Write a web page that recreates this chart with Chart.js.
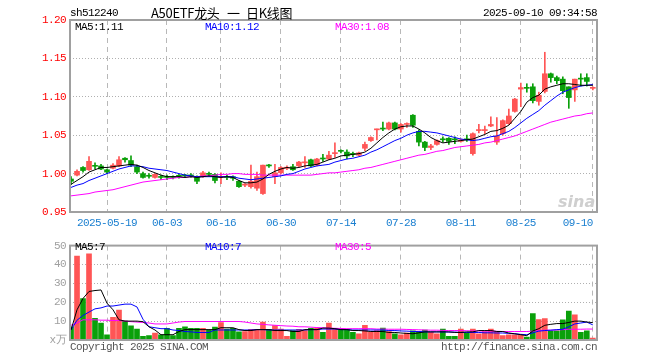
<!DOCTYPE html>
<html><head><meta charset="utf-8">
<script src="https://cdn.jsdelivr.net/npm/chart.js@4"></script>
<style>
body{margin:0;width:660px;height:360px;background:#fff;position:relative;overflow:hidden;font-family:"Liberation Mono",monospace}
canvas{position:absolute;left:0}
.t{position:absolute;font-size:11px;white-space:nowrap;line-height:12px;letter-spacing:-0.6px;font-family:"Liberation Mono",monospace}
.h{position:absolute;white-space:nowrap;font-family:'Noto Sans CJK SC';font-size:13px;line-height:16px;top:5px;color:#000}
</style></head><body>
<canvas id="k" width="660" height="235" style="top:0"></canvas>
<canvas id="v" width="660" height="125" style="top:235px"></canvas>
<div class="t" style="left:70px;top:7px;color:#000">sh512240</div>
<div class="h" style="left:151px;letter-spacing:-0.3px">A50ETF龙头</div>
<div class="h" style="left:227px">一</div>
<div class="h" style="left:246px;letter-spacing:-0.3px">日K线图</div>
<div class="t" style="right:63px;top:7px;color:#000">2025-09-10 09:34:58</div>
<div class="t" style="left:75px;top:21px;color:#000">MA5:1.11</div>
<div class="t" style="left:205px;top:21px;color:#0000ff">MA10:1.12</div>
<div class="t" style="left:335px;top:21px;color:#ff00ff">MA30:1.08</div>
<div class="t" style="left:75px;top:241px;color:#000">MA5:7</div>
<div class="t" style="left:205px;top:241px;color:#0000ff">MA10:7</div>
<div class="t" style="left:335px;top:241px;color:#ff00ff">MA30:5</div>
<div class="t" style="left:70px;top:341px;color:#555">Copyright 2025 SINA.COM</div>
<div class="t" style="right:63px;top:341px;color:#555">http://finance.sina.com.cn</div>
<div class="t" style="left:558px;top:193px;color:#cfcfcf;font-family:'DejaVu Sans';font-weight:bold;font-style:italic;font-size:16px;line-height:18px;letter-spacing:0">sina</div>
<script>
const dates = ['05-09','05-12','05-13','05-14','05-15','05-16','05-19','05-20','05-21','05-22','05-23','05-26','05-27','05-28','05-29','05-30',
'06-03','06-04','06-05','06-06','06-09','06-10','06-11','06-12','06-13','06-16','06-17','06-18','06-19','06-20','06-23','06-24','06-25','06-26','06-27','06-30',
'07-01','07-02','07-03','07-04','07-07','07-08','07-09','07-10','07-11','07-14','07-15','07-16','07-17','07-18','07-21','07-22','07-23','07-24','07-25','07-28','07-29','07-30','07-31',
'08-01','08-04','08-05','08-06','08-07','08-08','08-11','08-12','08-13','08-14','08-15','08-18','08-19','08-20','08-21','08-22','08-25','08-26','08-27','08-28','08-29',
'09-01','09-02','09-03','09-04','09-05','09-08','09-09','09-10'];
const tickLabels = ['2025-05-19','06-03','06-16','06-30','07-14','07-28','08-11','08-25','09-10'];
const priceTicks = [0.95,1.00,1.05,1.10,1.15,1.20];
const volTicks = [0,10,20,30,40,50];

const open = [.993,.998,1.008,1.005,1.010,1.010,1.005,1.007,1.010,1.020,
1.017,1.009,1.000,.997,.995,.996,.996,.996,.997,.998,
.998,.996,.996,1.000,.999,.995,.996,.996,.990,.985,
.983,.981,.974,1.0105,.996,1.001,1.007,1.009,1.010,1.014,
1.018,1.011,1.020,1.019,1.026,1.0295,1.028,1.026,1.024,1.033,
1.043,1.057,1.059,1.058,1.066,1.058,1.064,1.076,1.055,1.041,
1.034,1.038,1.045,1.046,1.0445,1.042,1.045,1.026,1.056,1.056,
1.062,1.041,1.052,1.065,1.081,1.110,1.112,1.113,1.094,1.107,
1.130,1.125,1.123,1.113,1.109,1.1235,1.125,1.111];
const high = [.996,1.005,1.009,1.022,1.014,1.012,1.006,1.013,1.022,1.021,
1.023,1.011,1.002,1.000,1.000,.998,.998,.997,.999,.999,
1.000,.997,1.003,1.002,1.000,1.001,.998,.997,.991,.987,
1.011,1.002,1.011,1.012,1.012,1.009,1.010,1.012,1.016,1.022,
1.019,1.020,1.025,1.029,1.040,1.031,1.031,1.028,1.028,1.041,
1.048,1.058,1.067,1.067,1.067,1.065,1.066,1.077,1.057,1.042,
1.038,1.044,1.048,1.047,1.048,1.045,1.050,1.053,1.064,1.062,
1.074,1.073,1.070,1.084,1.098,1.118,1.117,1.117,1.106,1.158,
1.131,1.127,1.126,1.113,1.123,1.130,1.130,1.113];
const low = [.986,.997,1.002,1.004,1.006,1.005,1.000,1.006,1.009,1.015,
1.009,1.000,.994,.994,.994,.992,.992,.993,.994,.995,
.995,.987,.995,.996,.988,.987,.992,.991,.982,.983,
.981,.978,.973,1.008,.987,1.000,1.005,1.004,1.009,1.008,
1.009,1.010,1.016,1.018,1.021,1.027,1.019,1.022,1.023,1.030,
1.042,1.044,1.056,1.057,1.057,1.054,1.060,1.060,1.036,1.030,
1.031,1.037,1.041,1.038,1.039,1.041,1.042,1.024,1.053,1.052,
1.061,1.038,1.050,1.064,1.080,1.087,1.106,1.092,1.089,1.105,
1.119,1.117,1.104,1.085,1.094,1.114,1.114,1.109];
const close = [.990,1.003,1.004,1.016,1.0095,1.006,1.002,1.011,1.018,1.018,
1.011,1.002,.995,.9965,.999,.995,.995,.995,.9965,.997,
.997,.990,1.001,.999,.991,.996,.995,.994,.983,.9855,
.990,.996,1.011,1.010,1.001,1.008,1.008,1.005,1.015,1.015,
1.010,1.019,1.019,1.024,1.027,1.029,1.023,1.025,1.027,1.038,
1.047,1.058,1.058,1.066,1.058,1.064,1.065,1.063,1.041,1.034,
1.036,1.043,1.044,1.042,1.044,1.044,1.044,1.052,1.057,1.057,
1.064,1.049,1.069,1.075,1.097,1.112,1.111,1.095,1.102,1.130,
1.125,1.121,1.108,1.099,1.123,1.123,1.120,1.112];
const ma5 = [.986,.991,.996,1.002,1.005,1.008,1.008,1.009,1.010,1.011,
1.012,1.011,1.008,1.004,1.001,.998,.996,.996,.996,.995,
.996,.995,.996,.997,.996,.995,.996,.995,.991,.988,
.988,.989,.993,.999,1.003,1.006,1.008,1.007,1.008,1.010,
1.011,1.012,1.015,1.018,1.020,1.023,1.024,1.025,1.026,1.028,
1.033,1.040,1.047,1.053,1.058,1.061,1.062,1.062,1.058,1.053,
1.047,1.043,1.040,1.041,1.042,1.043,1.044,1.045,1.048,1.051,
1.055,1.056,1.059,1.063,1.072,1.081,1.093,1.099,1.102,1.110,
1.113,1.115,1.117,1.117,1.116,1.115,1.115,1.115];
const ma10 = [.982,.985,.987,.991,.994,.997,1.000,1.003,1.006,1.008,
1.010,1.010,1.009,1.007,1.006,1.005,1.004,1.002,1.000,.998,
.997,.996,.996,.996,.996,.996,.996,.996,.994,.993,
.992,.993,.994,.995,.996,.997,.999,1.000,1.003,1.006,
1.008,1.010,1.011,1.012,1.015,1.017,1.019,1.020,1.022,1.024,
1.028,1.031,1.035,1.039,1.043,1.046,1.050,1.053,1.055,1.055,
1.054,1.053,1.051,1.049,1.047,1.045,1.044,1.043,1.044,1.046,
1.048,1.049,1.052,1.055,1.060,1.066,1.072,1.077,1.082,1.089,
1.095,1.101,1.106,1.109,1.112,1.114,1.115,1.116];
const ma30 = [.971,.972,.973,.974,.976,.977,.978,.979,.981,.983,
.985,.987,.989,.990,.991,.992,.993,.994,.995,.995,
.996,.996,.997,.997,.998,.999,.999,1.000,1.000,.999,
.999,.999,.998,.998,.998,.998,.998,.998,.998,.998,
.998,.999,1.000,1.001,1.001,1.002,1.003,1.004,1.005,1.007,
1.008,1.010,1.012,1.014,1.016,1.018,1.020,1.022,1.024,1.025,
1.027,1.029,1.030,1.032,1.034,1.035,1.036,1.037,1.038,1.040,
1.041,1.043,1.045,1.047,1.049,1.052,1.055,1.058,1.061,1.064,
1.067,1.069,1.071,1.073,1.075,1.076,1.078,1.079];
const volume = [7,44.5,22,45.7,11.5,9,2.8,12,15.8,10,
7.5,5.8,2,2.3,3.7,2.8,6.2,2.3,6.2,7,
6.2,6.2,6.2,5.3,6.8,9.2,5.8,6.2,4.3,4.5,
5.7,5.7,9.5,5.7,7.7,5.8,2,5,5.7,5,
6.2,6.2,4,9,6.2,5.3,5.7,4,3.3,7.8,
4,5,6.3,4.5,3.3,2.8,3.7,4.8,4.5,5.3,
4,3.3,5.8,2,2,5.8,3.7,5.8,3.3,4.5,
5.8,4.5,2.3,2.8,2.8,2.8,1.5,14,10.8,11.3,
4.8,4.8,10.7,15.3,13.3,4,4.8,1];
const vma5 = [5.3,16,22,25.7,26.2,26.5,19.5,16,10.7,10,
10,10,9.7,7,5.3,2.8,2.8,2.8,4.5,5.5,
5.5,5.5,5.5,5.5,5.5,6.5,6.5,6.5,5.5,5,
5,5.5,5.5,5.5,5,5,5,4.5,4.5,5.5,
5.5,5.5,6.3,6.3,6,5.5,5.5,5,5,4.8,
4.5,4.5,4.5,4,4,3.7,3.5,3.3,3.8,4.3,
4.3,4.3,4.3,4.3,4,4,4.3,4.3,5,5,
5,4.5,4.5,3.7,3.3,2.8,2.3,4.8,6,7.8,
8.3,8.7,8.7,9.3,10,10,9.5,9.2];
const vma10 = [5.3,10.5,13,14.8,16.5,17,18,18,18.5,19,
19,17.5,11,7,6.5,6,6,5.3,5,4.5,
4.3,4,4,4,5.3,5.3,5.3,5.3,5.3,5.3,
5.3,5.5,5.5,5.3,5.3,5.3,5.3,5.3,5.3,5.3,
5.5,5.5,5.8,5.8,5.8,5.5,5.5,5.3,5.3,5.3,
5.3,5.3,5.3,5,5,4.8,4.7,4.5,4.5,4.3,
4.3,4.3,4.3,4.2,4.2,4,4,4,4,3.8,
3.8,3.7,3.7,3.5,3.3,3,2.8,3.8,4.7,5,
5.2,5.5,5.7,7,8.5,9,9.5,8];
const vma30 = [7.8,9,10.7,10.7,10.7,10.5,10.5,10.3,10.3,10,
9.7,9.5,9.3,9,8.5,8.5,8.5,9,9.5,9.8,
9.8,9.8,9.8,9.8,9.8,9.8,9.8,9.8,9.8,9.5,
9,8.5,8.3,8,7.8,7.6,7.4,7.3,7,7,
6.8,6.6,6.5,6.3,6.2,6.1,6,6,6,6,
6,5.8,5.8,5.7,5.7,5.7,5.6,5.5,5.4,5.3,
5.2,5.2,5.1,5,5,5,4.9,4.8,4.8,4.7,
4.7,4.6,4.5,4.5,4.5,4.5,4.5,4.7,5,5.2,
5.2,5.3,5.5,5.7,5.7,5.7,5.8,5.8];

const UP = '#ff5555', DOWN = '#0aa00a';
const idx = dates.map((d, i) => i);
const tickIdx = tickLabels.map(l => dates.indexOf(l.slice(-5)));
const colors = idx.map(i => close[i] >= open[i] ? UP : DOWN);
const MONO = {family: 'Liberation Mono', size: 11};

const spacing = {id: 'spacing', beforeDraw(c) { c.ctx.letterSpacing = '-0.6px'; }};
const frame = {id: 'frame', afterDraw(c) {
  const a = c.chartArea, x = c.ctx; x.save(); x.strokeStyle = '#a0a0a0'; x.lineWidth = 2;
  x.strokeRect(a.left, a.top, a.right - a.left, a.bottom - a.top); x.restore(); }};

function xScale(showLabels) {
  return {type: 'linear', min: -0.17, max: 87.7, offset: false, bounds: 'ticks',
    afterDataLimits: s => { s.min = -0.17; s.max = 87.7; },
    afterBuildTicks: s => { s.ticks = tickIdx.map(v => ({value: v})); },
    afterFit: s => { s.height = showLabels ? 23 : 20; },
    ticks: {display: showLabels, autoSkip: false, maxRotation: 0, color: '#1a7fd0', font: MONO, padding: 4,
      callback: (v, i) => i === tickLabels.length - 1 ? tickLabels[i] + '     ' : tickLabels[i]},
    grid: {color: '#b8b8b8', drawTicks: false, lineWidth: 1, offset: false},
    border: {display: false, dash: [5, 4]}};
}
function line(data, color) {
  return {type: 'line', data: idx.map(i => ({x: i, y: data[i]})), borderColor: color, borderWidth: 1,
    pointRadius: 0, tension: 0, order: 0};
}
const common = {responsive: false, animation: false, events: [],
  plugins: {legend: {display: false}, tooltip: {enabled: false}}};

new Chart(document.getElementById('k'), {
  data: {datasets: [
    line(ma5, '#000000'), line(ma10, '#0000ff'), line(ma30, '#ff00ff'),
    {type: 'bar', data: idx.map(i => ({x: i, y: [open[i], close[i]]})), backgroundColor: colors,
      barThickness: 5, minBarLength: 1, grouped: false, order: 2},
    {type: 'bar', data: idx.map(i => ({x: i, y: [low[i], high[i]]})), backgroundColor: colors,
      barThickness: 1, minBarLength: 1, grouped: false, order: 3}
  ]},
  options: Object.assign({}, common, {
    layout: {padding: {top: 20, right: 63, left: 0, bottom: 0}},
    scales: {
      x: xScale(true),
      y: {min: 0.95, max: 1.20,
        afterBuildTicks: s => { s.ticks = priceTicks.map(v => ({value: v})); },
        afterFit: s => { s.width = 70; },
        ticks: {color: '#ff0000', font: MONO, padding: 4, callback: v => v.toFixed(2)},
        grid: {color: '#b0b0b0', drawTicks: false},
        border: {display: false, dash: [1, 2]}}
    }}),
  plugins: [spacing, frame]
});

new Chart(document.getElementById('v'), {
  data: {datasets: [
    line(vma5, '#000000'), line(vma10, '#0000ff'), line(vma30, '#ff00ff'),
    {type: 'bar', data: idx.map(i => ({x: i, y: volume[i]})), backgroundColor: colors,
      barThickness: 5, grouped: false, order: 2}
  ]},
  options: Object.assign({}, common, {
    layout: {padding: {top: 6, right: 63, left: 0, bottom: 0}},
    scales: {
      x: xScale(false),
      y: {min: 0, max: 50,
        afterBuildTicks: s => { s.ticks = volTicks.map(v => ({value: v})); },
        afterFit: s => { s.width = 70; },
        ticks: {color: '#a0a0a0', font: MONO, padding: 4, callback: v => v === 0 ? 'x万' : String(v)},
        grid: {color: '#b0b0b0', drawTicks: false},
        border: {display: false, dash: [1, 2]}}
    }}),
  plugins: [spacing, frame]
});
</script>
</body></html>
